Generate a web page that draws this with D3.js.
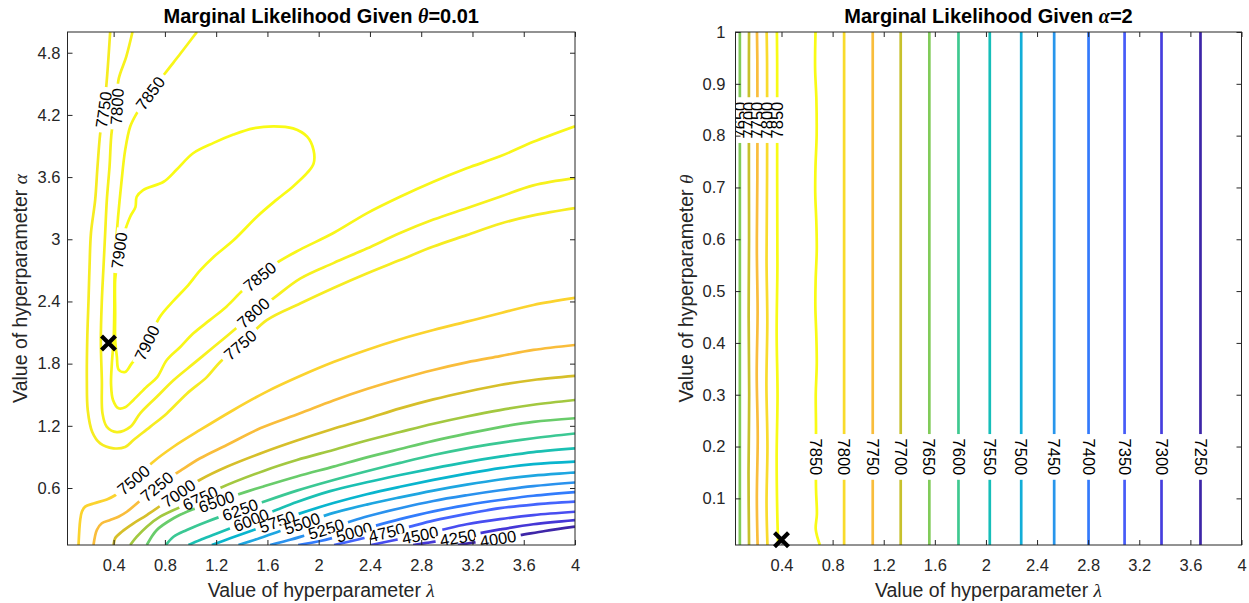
<!DOCTYPE html>
<html>
<head>
<meta charset="utf-8">
<title>Marginal likelihood contours</title>
<script src="https://cdn.jsdelivr.net/npm/d3@7/dist/d3.min.js"></script>
<style>
  body { margin: 0; background: #fff; }
  svg text { font-family: "Liberation Sans", Arial, Helvetica, sans-serif; }
</style>
</head>
<body>
<div id="chart"></div>
<script>
var lambdaTicks = [0.4, 0.8, 1.2, 1.6, 2, 2.4, 2.8, 3.2, 3.6, 4];
var alphaTicks = [0.6, 1.2, 1.8, 2.4, 3, 3.6, 4.2, 4.8];
var thetaTicks = [0.1, 0.2, 0.3, 0.4, 0.5, 0.6, 0.7, 0.8, 0.9, 1];

// left panel, points are [lambda, alpha]
var c7900 = [[0.49,1.72],[0.44,1.74],[0.425,1.87],[0.412,2.03],[0.412,2.29],[0.412,2.61],[0.425,2.735],[0.443,2.90],[0.49,3.09],[0.53,3.22],[0.57,3.31],[0.58,3.41],[0.63,3.475],[0.79,3.555],[0.89,3.67],[1.02,3.83],[1.18,3.93],[1.335,4.01],[1.49,4.07],[1.65,4.09],[1.80,4.07],[1.91,3.99],[1.96,3.86],[1.96,3.73],[1.91,3.64],[1.80,3.51],[1.67,3.38],[1.52,3.22],[1.335,2.99],[1.18,2.83],[1.075,2.70],[0.97,2.54],[0.87,2.41],[0.76,2.25],[0.66,2.00],[0.54,1.80]];
var c7850 = [[1.05,5.0],[0.92,4.79],[0.80,4.60],[0.685,4.41],[0.58,4.215],[0.53,4.09],[0.49,3.86],[0.46,3.54],[0.435,3.22],[0.415,2.90],[0.407,2.61],[0.405,2.29],[0.40,2.03],[0.386,1.80],[0.38,1.60],[0.395,1.45],[0.438,1.37],[0.49,1.38],[0.555,1.45],[0.66,1.58],[0.74,1.67],[0.815,1.835],[0.92,1.96],[1.02,2.09],[1.15,2.22],[1.28,2.35],[1.41,2.51],[1.54,2.64],[1.67,2.77],[1.855,2.90],[2.115,3.06],[2.375,3.25],[2.635,3.41],[2.895,3.555],[3.155,3.685],[3.415,3.80],[3.675,3.94],[4.0,4.09]];
var c7800 = [[0.547,5.0],[0.498,4.76],[0.438,4.54],[0.425,4.28],[0.386,4.05],[0.368,3.70],[0.347,3.38],[0.334,3.06],[0.321,2.735],[0.308,2.41],[0.30,2.03],[0.308,1.64],[0.313,1.32],[0.347,1.19],[0.425,1.14],[0.53,1.19],[0.607,1.32],[0.737,1.48],[0.867,1.64],[1.023,1.80],[1.18,1.96],[1.335,2.12],[1.49,2.29],[1.647,2.43],[1.855,2.62],[2.115,2.77],[2.375,2.91],[2.635,3.06],[2.895,3.19],[3.155,3.30],[3.415,3.41],[3.675,3.52],[4.0,3.59]];
var c7750 = [[0.373,5.0],[0.342,4.47],[0.321,4.25],[0.295,4.02],[0.274,3.70],[0.256,3.38],[0.223,3.06],[0.212,2.735],[0.204,2.41],[0.194,2.03],[0.191,1.64],[0.198,1.35],[0.233,1.14],[0.295,1.03],[0.399,0.983],[0.49,0.996],[0.555,1.063],[0.685,1.19],[0.815,1.32],[0.971,1.51],[1.127,1.67],[1.231,1.816],[1.387,1.98],[1.595,2.22],[1.855,2.38],[2.115,2.53],[2.375,2.67],[2.635,2.80],[2.895,2.93],[3.155,3.04],[3.415,3.15],[3.675,3.23],[4.0,3.30]];
var c7500 = [[0.126,0.05],[0.139,0.29],[0.152,0.37],[0.178,0.42],[0.243,0.45],[0.347,0.49],[0.412,0.53],[0.555,0.677],[0.71,0.854],[0.867,0.998],[1.075,1.16],[1.335,1.353],[1.595,1.53],[1.855,1.68],[2.115,1.815],[2.375,1.932],[2.635,2.035],[2.895,2.124],[3.155,2.205],[3.415,2.286],[3.675,2.366],[4.0,2.434]];
var c7250 = [[0.243,0.05],[0.269,0.195],[0.308,0.26],[0.373,0.291],[0.438,0.323],[0.503,0.371],[0.737,0.613],[0.919,0.765],[1.075,0.887],[1.283,1.015],[1.543,1.176],[1.855,1.321],[2.115,1.445],[2.375,1.555],[2.635,1.652],[2.895,1.739],[3.155,1.812],[3.415,1.872],[3.675,1.932],[4.0,1.98]];
var c7000 = [[0.399,0.05],[0.412,0.115],[0.464,0.178],[0.555,0.259],[0.659,0.339],[0.906,0.549],[1.075,0.68],[1.283,0.805],[1.57,0.945],[1.83,1.058],[2.09,1.162],[2.375,1.268],[2.635,1.368],[2.895,1.455],[3.155,1.529],[3.415,1.594],[3.675,1.642],[4.0,1.681]];
var c6750 = [[0.529,0.05],[0.581,0.13],[0.659,0.227],[0.763,0.323],[1.075,0.501],[1.231,0.6],[1.57,0.765],[1.83,0.87],[2.115,0.967],[2.375,1.058],[2.635,1.14],[2.895,1.22],[3.155,1.29],[3.415,1.352],[3.675,1.403],[4.0,1.449]];
var c6500 = [[0.659,0.05],[0.737,0.195],[0.867,0.308],[0.971,0.371],[1.205,0.47],[1.439,0.565],[1.569,0.615],[1.83,0.711],[2.115,0.806],[2.375,0.895],[2.635,0.976],[2.895,1.055],[3.155,1.125],[3.415,1.188],[3.675,1.238],[4.0,1.273]];
var c6250 = [[0.808,0.05],[0.867,0.13],[0.971,0.195],[1.127,0.275],[1.387,0.39],[1.517,0.445],[1.83,0.575],[2.089,0.668],[2.375,0.762],[2.635,0.842],[2.895,0.918],[3.155,0.983],[3.415,1.035],[3.675,1.08],[4.0,1.126]];
var c6000 = [[0.984,0.05],[1.075,0.098],[1.205,0.16],[1.473,0.291],[1.673,0.39],[1.83,0.465],[2.089,0.57],[2.375,0.655],[2.635,0.725],[2.895,0.79],[3.155,0.85],[3.415,0.902],[3.675,0.947],[4.0,0.983]];
var c5750 = [[1.166,0.05],[1.309,0.115],[1.481,0.19],[1.676,0.275],[1.855,0.355],[2.115,0.455],[2.375,0.54],[2.635,0.612],[2.895,0.678],[3.155,0.738],[3.415,0.792],[3.675,0.83],[4.0,0.854]];
var c5500 = [[1.374,0.05],[1.543,0.118],[1.699,0.185],[1.871,0.258],[2.089,0.35],[2.375,0.44],[2.635,0.51],[2.895,0.575],[3.155,0.632],[3.415,0.682],[3.675,0.72],[4.0,0.75]];
var c5250 = [[1.621,0.05],[1.777,0.1],[1.902,0.146],[2.058,0.204],[2.229,0.27],[2.375,0.325],[2.635,0.405],[2.895,0.475],[3.155,0.53],[3.415,0.578],[3.675,0.618],[4.0,0.653]];
var c5000 = [[1.84,0.05],[2.012,0.089],[2.12,0.122],[2.276,0.175],[2.44,0.235],[2.635,0.3],[2.895,0.375],[3.155,0.435],[3.415,0.484],[3.675,0.525],[4.0,0.561]];
var c4750 = [[2.12,0.05],[2.323,0.108],[2.531,0.172],[2.698,0.222],[2.895,0.285],[3.155,0.35],[3.415,0.405],[3.675,0.44],[4.0,0.468]];
var c4500 = [[2.409,0.05],[2.596,0.098],[2.791,0.146],[2.973,0.2],[3.155,0.25],[3.415,0.3],[3.675,0.339],[4.0,0.371]];
var c4250 = [[2.737,0.05],[2.893,0.08],[3.088,0.122],[3.259,0.165],[3.415,0.2],[3.675,0.25],[4.0,0.291]];
var c4000 = [[3.087,0.05],[3.243,0.08],[3.4,0.112],[3.571,0.145],[3.766,0.185],[4.0,0.227]];

var leftContours = [
  {level: 4000, pts: c4000}, {level: 4250, pts: c4250}, {level: 4500, pts: c4500},
  {level: 4750, pts: c4750}, {level: 5000, pts: c5000}, {level: 5250, pts: c5250},
  {level: 5500, pts: c5500}, {level: 5750, pts: c5750}, {level: 6000, pts: c6000},
  {level: 6250, pts: c6250}, {level: 6500, pts: c6500}, {level: 6750, pts: c6750},
  {level: 7000, pts: c7000}, {level: 7250, pts: c7250}, {level: 7500, pts: c7500},
  {level: 7750, pts: c7750}, {level: 7800, pts: c7800}, {level: 7850, pts: c7850},
  {level: 7900, pts: c7900, closed: true}
];
// [level, lambda, alpha]
var leftLabels = [[7750,0.32,4.25],[7800,0.425,4.28],[7850,0.685,4.41],[7900,0.455,2.89],[7900,0.66,2.0],
  [7850,1.54,2.64],[7800,1.49,2.29],[7750,1.387,1.98],[7500,0.555,0.677],[7250,0.737,0.613],
  [7000,0.906,0.549],[6750,1.075,0.501],[6500,1.205,0.46],[6250,1.387,0.39],[6000,1.473,0.291],
  [5750,1.676,0.275],[5500,1.871,0.258],[5250,2.058,0.204],[5000,2.276,0.175],[4750,2.531,0.172],
  [4500,2.791,0.146],[4250,3.088,0.122],[4000,3.4,0.112]];
var leftBest = [0.36, 2.0];

// right panel, points are [lambda, theta]
var r7650a = [[0.074,0.01],[0.074,1]];
var r7700a = [[0.146,0.01],[0.142,0.15],[0.147,0.3],[0.143,0.45],[0.146,0.6],[0.145,0.72],[0.145,0.94],[0.146,1]];
var r7750a = [[0.213,0.01],[0.207,0.1],[0.214,0.22],[0.206,0.34],[0.213,0.46],[0.207,0.58],[0.211,0.72],[0.211,0.94],[0.208,1]];
var r7800a = [[0.29,0.01],[0.283,0.09],[0.29,0.2],[0.282,0.32],[0.289,0.44],[0.283,0.56],[0.287,0.72],[0.287,0.94],[0.284,1]];
var r7850a = [[0.374,0.01],[0.367,0.07],[0.362,0.18],[0.369,0.3],[0.362,0.42],[0.368,0.55],[0.366,0.72],[0.366,0.94],[0.364,1]];
var r7850b = [[0.666,1],[0.663,0.93],[0.673,0.87],[0.675,0.8],[0.666,0.74],[0.664,0.69],[0.673,0.63],[0.676,0.58],[0.667,0.52],[0.665,0.47],[0.673,0.41],[0.676,0.36],[0.668,0.3],[0.67,0.24],[0.67,0.12],[0.677,0.07],[0.668,0.04],[0.70,0.01]];
var r7800b = [[0.89,1],[0.89,0.01]];
var r7750b = [[1.114,1],[1.114,0.01]];
var r7700b = [[1.333,1],[1.333,0.01]];
var r7650b = [[1.557,1],[1.557,0.01]];
var r7600 = [[1.785,1],[1.785,0.01]];
var r7550 = [[2.03,1],[2.03,0.01]];
var r7500 = [[2.276,1],[2.276,0.01]];
var r7450 = [[2.534,1],[2.534,0.01]];
var r7400 = [[2.803,1],[2.803,0.01]];
var r7350 = [[3.085,1],[3.085,0.01]];
var r7300 = [[3.374,1],[3.374,0.01]];
var r7250 = [[3.679,1],[3.679,0.01]];

var rightContours = [
  {level: 7650, pts: r7650a}, {level: 7700, pts: r7700a}, {level: 7750, pts: r7750a},
  {level: 7800, pts: r7800a}, {level: 7850, pts: r7850a}, {level: 7850, pts: r7850b},
  {level: 7800, pts: r7800b}, {level: 7750, pts: r7750b}, {level: 7700, pts: r7700b},
  {level: 7650, pts: r7650b}, {level: 7600, pts: r7600}, {level: 7550, pts: r7550},
  {level: 7500, pts: r7500}, {level: 7450, pts: r7450}, {level: 7400, pts: r7400},
  {level: 7350, pts: r7350}, {level: 7300, pts: r7300}, {level: 7250, pts: r7250}
];
// [level, lambda, theta]
var rightLabels = [[7650,0.074,0.83],[7700,0.145,0.83],[7750,0.211,0.83],[7800,0.287,0.83],[7850,0.366,0.83],
  [7850,0.67,0.18],[7800,0.89,0.18],[7750,1.114,0.18],[7700,1.333,0.18],[7650,1.557,0.18],
  [7600,1.785,0.18],[7550,2.03,0.18],[7500,2.276,0.18],[7450,2.534,0.18],[7400,2.803,0.18],
  [7350,3.085,0.18],[7300,3.374,0.18],[7250,3.679,0.18]];
var rightBest = [0.40, 0.02];

// parula colour map (every 4th entry of the 64 step table)
var parulaStops = [
  [0.2422,0.1504,0.6603],[0.2706,0.2147,0.8364],[0.2813,0.3006,0.9414],[0.2699,0.3892,0.9906],
  [0.1963,0.4847,0.9892],[0.1687,0.5703,0.9359],[0.1248,0.6459,0.8883],[0.0297,0.7082,0.8163],
  [0.0964,0.7500,0.7120],[0.2161,0.7843,0.5923],[0.3909,0.8029,0.4354],[0.6174,0.7876,0.2612],
  [0.8203,0.7498,0.1535],[0.9728,0.7298,0.2394],[0.9892,0.8136,0.1885],[0.9597,0.9135,0.1423],
  [0.9769,0.9839,0.0805]];
var parulaPos = [0,4,8,12,16,20,24,28,32,36,40,44,48,52,56,60,63].map(function(i) { return i / 63; });
var parula = d3.scaleLinear()
  .domain(parulaPos)
  .range(parulaStops.map(function(c) { return d3.rgb(c[0]*255, c[1]*255, c[2]*255); }))
  .interpolate(d3.interpolateRgb)
  .clamp(true);

var width = 1249, height = 603;
var ink = "#262626";
var greek = '"Liberation Serif", "DejaVu Serif", serif';

var svg = d3.select("#chart").append("svg")
  .attr("width", width)
  .attr("height", height);

drawPanel({
  name: "left", left: 67.5, right: 575, top: 32, bottom: 545,
  xDomain: [0.04, 4], yDomain: [0.05, 5], yTicks: alphaTicks,
  cMin: 4000, cMax: 7900,
  contours: leftContours, labels: leftLabels, best: leftBest,
  title: ["Marginal Likelihood Given ", "\u03b8", "=0.01"],
  yLabel: "\u03b1", yLabelX: 27, yPad: 7
});

drawPanel({
  name: "right", left: 735.5, right: 1241.5, top: 32, bottom: 545,
  xDomain: [0.04, 4], yDomain: [0.01, 1], yTicks: thetaTicks,
  cMin: 7250, cMax: 7850,
  contours: rightContours, labels: rightLabels, best: rightBest,
  title: ["Marginal Likelihood Given ", "\u03b1", "=2"],
  yLabel: "\u03b8", yLabelX: 693, yPad: 10
});

function labelSpot(lab, contours, x, y) {
  var px = x(lab[1]), py = y(lab[2]);
  var best = null;
  contours.filter(function(c) { return c.level === lab[0]; }).forEach(function(c) {
    var pts = c.pts.map(function(d) { return [x(d[0]), y(d[1])]; });
    if (c.closed) pts.push(pts[0]);
    for (var i = 0; i < pts.length - 1; i++) {
      var a = pts[i], b = pts[i + 1];
      var dx = b[0] - a[0], dy = b[1] - a[1];
      var t = ((px - a[0]) * dx + (py - a[1]) * dy) / (dx * dx + dy * dy);
      t = Math.max(0, Math.min(1, t));
      var qx = a[0] + t * dx, qy = a[1] + t * dy;
      var dist = Math.hypot(px - qx, py - qy);
      if (!best || dist < best.dist) {
        best = {dist: dist, x: qx, y: qy, angle: Math.atan2(dy, dx) * 180 / Math.PI};
      }
    }
  });
  if (best.angle > 90) best.angle -= 180;
  if (best.angle < -90) best.angle += 180;
  return best;
}

function drawPanel(p) {
  var x = d3.scaleLinear().domain(p.xDomain).range([p.left, p.right]);
  var y = d3.scaleLinear().domain(p.yDomain).range([p.bottom, p.top]);
  var color = function(level) { return parula((level - p.cMin) / (p.cMax - p.cMin)); };

  var g = svg.append("g").attr("class", p.name);

  g.append("clipPath").attr("id", "clip-" + p.name)
    .append("rect")
    .attr("x", p.left).attr("y", p.top)
    .attr("width", p.right - p.left).attr("height", p.bottom - p.top);

  var line = d3.line()
    .x(function(d) { return x(d[0]); })
    .y(function(d) { return y(d[1]); })
    .curve(d3.curveCatmullRom.alpha(0.5));
  var loop = d3.line()
    .x(function(d) { return x(d[0]); })
    .y(function(d) { return y(d[1]); })
    .curve(d3.curveCatmullRomClosed.alpha(0.5));

  var plot = g.append("g").attr("clip-path", "url(#clip-" + p.name + ")");

  plot.selectAll("path.contour")
    .data(p.contours)
    .enter().append("path")
    .attr("class", "contour")
    .attr("fill", "none")
    .attr("stroke", function(d) { return color(d.level); })
    .attr("stroke-width", 2.7)
    .attr("stroke-linejoin", "round")
    .attr("d", function(d) { return d.closed ? loop(d.pts) : line(d.pts); });

  // labels sit in a gap cut out of their own line
  var labs = plot.selectAll("g.clabel")
    .data(p.labels)
    .enter().append("g")
    .attr("class", "clabel")
    .attr("transform", function(d) {
      var s = labelSpot(d, p.contours, x, y);
      return "translate(" + s.x + "," + s.y + ") rotate(" + s.angle + ")";
    });
  labs.append("rect").attr("fill", "#fff");
  labs.append("text")
    .attr("text-anchor", "middle")
    .attr("dy", "0.36em")
    .attr("font-size", 16.5)
    .attr("fill", "#000")
    .text(function(d) { return d[0]; });
  labs.each(function() {
    var el = d3.select(this);
    var w = el.select("text").node().getComputedTextLength() + 9;
    el.select("rect").attr("x", -w / 2).attr("y", -5).attr("width", w).attr("height", 10);
  });

  // axes, ticks point inward on all four sides
  var xb = g.append("g")
    .attr("transform", "translate(0," + p.bottom + ")")
    .call(d3.axisBottom(x).tickValues(lambdaTicks).tickSizeInner(-5).tickSizeOuter(0).tickPadding(14)
      .tickFormat(function(d) { return d; }));
  var xt = g.append("g")
    .attr("transform", "translate(0," + p.top + ")")
    .call(d3.axisTop(x).tickValues(lambdaTicks).tickSizeInner(-5).tickSizeOuter(0).tickFormat(""));
  var yl = g.append("g")
    .attr("transform", "translate(" + p.left + ",0)")
    .call(d3.axisLeft(y).tickValues(p.yTicks).tickSizeInner(-5).tickSizeOuter(0).tickPadding(p.yPad)
      .tickFormat(function(d) { return d; }));
  var yr = g.append("g")
    .attr("transform", "translate(" + p.right + ",0)")
    .call(d3.axisRight(y).tickValues(p.yTicks).tickSizeInner(-5).tickSizeOuter(0).tickFormat(""));

  [xb, xt, yl, yr].forEach(function(a) {
    a.attr("color", ink).attr("font-size", 16.5)
      .attr("font-family", '"Liberation Sans", Arial, Helvetica, sans-serif');
    a.select(".domain").remove();
  });

  g.append("rect")
    .attr("x", p.left).attr("y", p.top)
    .attr("width", p.right - p.left).attr("height", p.bottom - p.top)
    .attr("fill", "none").attr("stroke", ink).attr("stroke-width", 1);

  // best hyperparameter marker
  g.append("path")
    .attr("transform", "translate(" + x(p.best[0]) + "," + y(p.best[1]) + ")")
    .attr("d", "M-7,-7L7,7M-7,7L7,-7")
    .attr("stroke", "#000")
    .attr("stroke-width", 4.2)
    .attr("fill", "none");

  var cx = (p.left + p.right) / 2;

  var title = g.append("text")
    .attr("x", cx).attr("y", 23)
    .attr("text-anchor", "middle")
    .attr("font-size", 20)
    .attr("font-weight", "bold")
    .attr("fill", "#000");
  title.append("tspan").text(p.title[0]);
  title.append("tspan").attr("font-style", "italic").attr("font-family", greek).text(p.title[1]);
  title.append("tspan").text(p.title[2]);

  var xl = g.append("text")
    .attr("x", cx).attr("y", 597)
    .attr("text-anchor", "middle")
    .attr("font-size", 19.5)
    .attr("fill", ink);
  xl.append("tspan").text("Value of hyperparameter ");
  xl.append("tspan").attr("font-style", "italic").attr("font-family", greek).text("\u03bb");

  var ylab = g.append("text")
    .attr("transform", "translate(" + p.yLabelX + "," + ((p.top + p.bottom) / 2) + ") rotate(-90)")
    .attr("text-anchor", "middle")
    .attr("font-size", 19.5)
    .attr("fill", ink);
  ylab.append("tspan").text("Value of hyperparameter ");
  ylab.append("tspan").attr("font-style", "italic").attr("font-family", greek).text(p.yLabel);
}
</script>
</body>
</html>
